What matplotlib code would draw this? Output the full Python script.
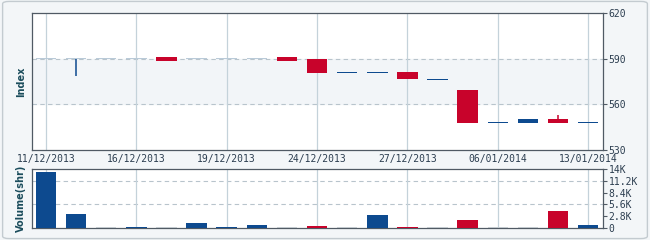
import matplotlib
matplotlib.use("Agg")
import matplotlib.pyplot as plt
from matplotlib.patches import FancyBboxPatch

# candle data, one per trading day (category axis)
opens  = [590, 590, 590, 590, 591.0, 590, 590, 590, 591.0, 589.8, 581, 581, 581.2, 576.6, 569.4, 548, 548.0, 550.4, 548]
closes = [590, 590, 590, 590, 588.5, 590, 590, 590, 588.5, 580.8, 581, 581, 576.6, 576.6, 547.7, 548, 550.4, 548.0, 548]
highs  = [590, 590, 590, 590, 591.0, 590, 590, 590, 591.0, 589.8, 581, 581, 581.2, 576.6, 569.4, 548, 550.4, 553.0, 548]
lows   = [590, 578.5, 590, 590, 588.5, 590, 590, 590, 588.5, 580.8, 581, 581, 576.6, 576.6, 547.7, 548, 548.0, 548.0, 548]
volume = [13.2, 3.4, 0, 0.3, 0, 1.26, 0.3, 0.8, 0, 0.5, 0, 3.1, 0.25, 0, 1.9, 0, 0, 4.0, 0.75]  # thousands

tick_pos = [0, 3, 6, 9, 12, 15, 18]
tick_labels = ["11/12/2013", "16/12/2013", "19/12/2013", "24/12/2013",
               "27/12/2013", "06/01/2014", "13/01/2014"]
price_ticks = [530, 560, 590, 620]
vol_ticks = [0, 2.8, 5.6, 8.4, 11.2, 14]
vol_tick_labels = ["0", "2.8K", "5.6K", "8.4K", "11.2K", "14K"]

# flat candle bodies that get drawn faintly on the 590 grid line
light_idx = [0, 1, 2, 3, 5, 6, 7]

RED = "#c8032b"
BLUE = "#0d4a8f"
LIGHT = "#b9cad8"
TXT = "#2c3e50"
LBL = "#1b4d5c"
SPINE = "#505a64"

fig = plt.figure(figsize=(6.5, 2.4), dpi=100)
fig.patch.set_facecolor("#f3f6f8")
fig.patches.append(FancyBboxPatch((0.004, 0.006), 0.992, 0.988,
                                  boxstyle="round,pad=0,rounding_size=0.01",
                                  transform=fig.transFigure, facecolor="none",
                                  edgecolor="#c3cbd0", linewidth=1))

ax = fig.add_axes([0.049, 0.375, 0.879, 0.571])
axv = fig.add_axes([0.049, 0.05, 0.879, 0.246])

n = len(opens)
xs = list(range(n))

# price panel
ax.set_facecolor("white")
ax.axhspan(560, 590, color="#f2f5f8", zorder=0)
for y in (560, 590):
    ax.axhline(y, color="#b8c4cc", lw=0.8, ls=(0, (4, 3)), zorder=1)
for p in tick_pos:
    ax.axvline(p, color="#c4d2da", lw=0.9, zorder=1)

for i in xs:
    o, c, h, l = opens[i], closes[i], highs[i], lows[i]
    col = RED if c < o else BLUE
    body_col = LIGHT if i in light_idx else col
    lo, hi = min(o, c), max(o, c)
    if h > hi or l < lo:
        ax.vlines(i, l, h, color=col, lw=1.1, zorder=4)
    ax.bar(i, max(hi - lo, 0.7), bottom=lo if hi - lo >= 0.7 else lo - 0.35,
           width=0.68, color=body_col, zorder=3)

ax.set_xlim(-0.47, n - 0.5)
ax.set_ylim(530, 620)
ax.yaxis.tick_right()
ax.set_yticks(price_ticks)
ax.set_xticks(tick_pos)
ax.set_xticklabels(tick_labels)
ax.set_ylabel("Index", color=LBL, fontsize=7, fontweight="bold", labelpad=4)

# volume panel
axv.set_facecolor("white")
for y in (5.6, 11.2):
    axv.axhline(y, color="#b8c4cc", lw=0.8, ls=(0, (4, 3)), zorder=1)
for p in tick_pos:
    axv.axvline(p, color="#c4d2da", lw=0.9, zorder=1)

for i in xs:
    v = volume[i]
    if v == 0:
        axv.bar(i, 0.2, width=0.68, color="#d3dade", zorder=2)
    else:
        col = RED if closes[i] < opens[i] else BLUE
        axv.bar(i, v, width=0.68, color=col, zorder=3)

axv.set_xlim(-0.47, n - 0.5)
axv.set_ylim(0, 14)
axv.yaxis.tick_right()
axv.set_yticks(vol_ticks)
axv.set_yticklabels(vol_tick_labels)
axv.set_xticks(tick_pos)
axv.tick_params(axis="x", length=0, labelbottom=False)
axv.set_ylabel("Volume(shr)", color=LBL, fontsize=7, fontweight="bold", labelpad=4)

for a in (ax, axv):
    for s in a.spines.values():
        s.set_color(SPINE)
        s.set_linewidth(0.9)
    a.tick_params(axis="y", colors=SPINE, labelcolor=TXT, labelsize=7, length=3, width=0.8, pad=1)
    for t in a.get_yticklabels():
        t.set_family("DejaVu Sans Mono")
ax.tick_params(axis="x", length=0, labelcolor=TXT, labelsize=7, pad=3)
for t in ax.get_xticklabels():
    t.set_family("DejaVu Sans Mono")

fig.savefig("out.png", dpi=100, facecolor=fig.get_facecolor())
